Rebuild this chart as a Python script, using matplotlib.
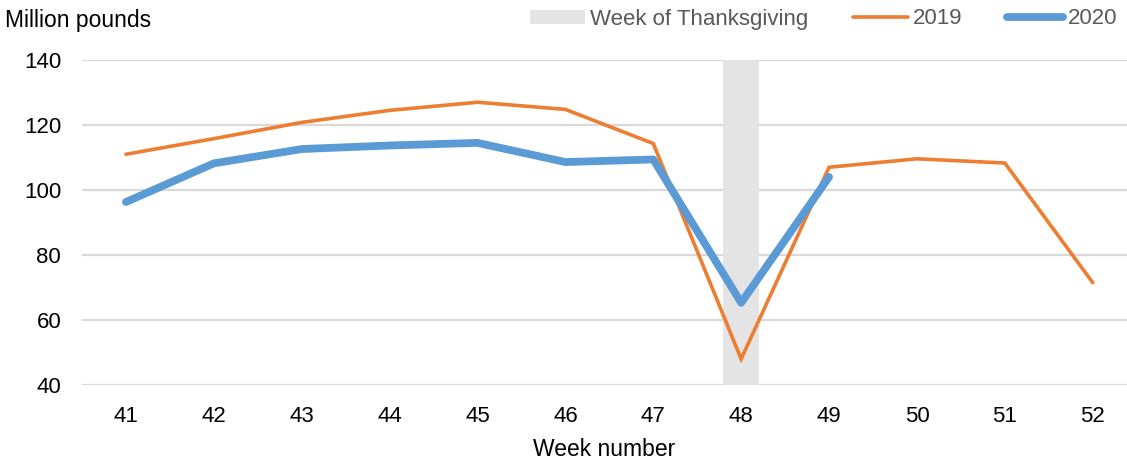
import matplotlib.pyplot as plt
from matplotlib.patches import Patch
from matplotlib.lines import Line2D

plt.rcParams['font.family'] = ['Liberation Sans', 'DejaVu Sans']

# --- data ---
semanas = ['41', '42', '43', '44', '45', '46', '47', '48', '49', '50', '51', '52']
valores_2019 = [111.0, 115.8, 120.8, 124.5, 127.0, 124.8, 114.3, 48.0, 107.0, 109.6, 108.3, 71.5]
valores_2020 = [96.3, 108.2, 112.6, 113.7, 114.5, 108.6, 109.4, 65.3, 104.0]
semana_thanksgiving = '48'

laranja = '#ED7D31'
azul = '#5B9BD5'
cinza_banda = '#E4E4E4'

fig = plt.figure(figsize=(11.27, 4.62), dpi=100)
ax = fig.add_axes([82 / 1127, 1 - 385 / 462, 1045 / 1127, 325 / 462])

x = list(range(len(semanas)))
i_tg = semanas.index(semana_thanksgiving)

ax.axvspan(i_tg - 0.205, i_tg + 0.205, color=cinza_banda, zorder=1, lw=0)
ax.plot(x, valores_2019, color=laranja, lw=2.6, zorder=3,
        solid_capstyle='round', solid_joinstyle='miter')
ax.plot(x[:len(valores_2020)], valores_2020, color=azul, lw=5.6, zorder=4,
        solid_capstyle='round', solid_joinstyle='round')

ax.set_xlim(-0.5, 11.39)
ax.set_ylim(40, 140)
ax.set_yticks(range(40, 141, 20))
ax.set_xticks(x)
ax.set_xticklabels(semanas)
ax.yaxis.grid(True, color='#D9D9D9', lw=1.6)
ax.set_axisbelow(True)
for s in ax.spines.values():
    s.set_visible(False)
ax.tick_params(axis='both', length=0, labelsize=16, colors='#000000')
ax.tick_params(axis='y', pad=15)
ax.tick_params(axis='x', pad=15)
ax.set_xlabel('Week number', fontsize=16.5, labelpad=8)

fig.text(5 / 1127, 1 - 21 / 462, 'Million pounds', fontsize=16.5, va='center', ha='left')

handles = [
    Patch(facecolor=cinza_banda, edgecolor='none'),
    Line2D([0], [0], color=laranja, lw=2.6, solid_capstyle='round'),
    Line2D([0], [0], color=azul, lw=5.6, solid_capstyle='round'),
]
leg = fig.legend(handles, ['Week of Thanksgiving', '2019', '2020'], ncol=3,
                 loc='center right', bbox_to_anchor=(1117 / 1127, 1 - 19 / 462),
                 frameon=False, fontsize=16, handlelength=2.5, handleheight=0.6,
                 handletextpad=0.22, columnspacing=2.0, borderaxespad=0, borderpad=0)
for t in leg.get_texts():
    t.set_color('#595959')

fig.savefig('out.png', dpi=100)
